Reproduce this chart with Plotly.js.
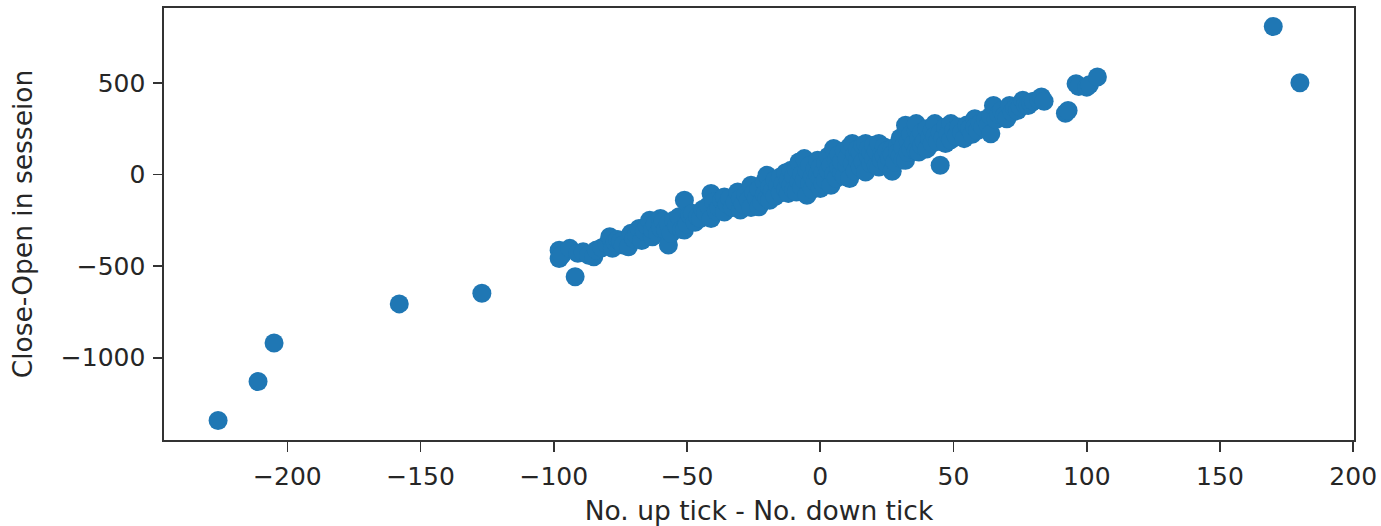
<!DOCTYPE html>
<html>
<head>
<meta charset="utf-8">
<script src="https://cdn.plot.ly/plotly-3.0.1.min.js"></script>
<style>html,body{margin:0;padding:0;background:#fff;}#chart{width:1381px;height:526px;}</style>
</head>
<body>
<div id="chart"></div>
<script>
// No. up tick - No. down tick
const upDownTickDiff = [
  -226, -211, -205, -158, -127, 170, 180,
  -98, -98, -97, -94, -92, -91, -89, -87, -85, -84, -82, -80, -79, -78, -77, -76, -75, -74, -72, -71, -70, -69, -68, -67, -66, -65, -64, -63, -63, -62, -61, -60, -60, -59, -58, -57, -57, -56, -55, -54, -53, -52, -51, -51, -50, -50,
  -49, -48, -47, -46, -45, -44, -43, -42, -41, -41, -40, -39, -38, -37, -36, -36, -35, -34, -33, -32, -31, -30, -30, -29, -28, -27, -26, -26, -25, -24, -23, -23, -22, -21, -21, -20, -20, -19, -19, -18, -17, -17, -16, -15, -15, -14, -13, -13, -12, -12, -11, -11, -10, -10, -9, -9, -8, -8, -7, -7, -6, -6, -5, -5, -4, -4, -3, -3, -2, -2, -1, -1, 0, 0, 0,
  1, 1, 2, 2, 3, 3, 4, 4, 5, 5, 6, 6, 7, 7, 8, 8, 9, 9, 10, 10, 11, 11, 12, 12, 13, 13, 14, 14, 15, 15, 16, 16, 17, 17, 18, 18, 19, 19, 20, 20, 21, 21, 22, 22, 23, 23, 24, 24, 25, 25, 26, 27, 27, 27, 28, 29, 29, 30, 30,
  31, 31, 32, 32, 33, 33, 34, 34, 35, 36, 36, 36, 37, 37, 38, 38, 39, 40, 40, 41, 42, 42, 43, 43, 44, 45, 45, 46, 47, 47, 48, 49, 49, 50, 51, 52, 53, 54, 55, 56, 57, 58, 58, 59, 60, 61, 62, 63, 64, 64,
  65, 66, 67, 68, 69, 70, 71, 72, 73, 74, 75, 76, 77, 78, 79, 80, 82, 83, 84, 92, 93, 96, 97, 100, 101, 104
];
// Close-Open in session
const closeOpen = [
  -1343, -1130, -920, -706, -648, 808, 501,
  -413, -458, -440, -403, -558, -430, -422, -440, -449, -412, -400, -380, -340, -403, -370, -355, -367, -385, -394, -321, -350, -330, -294, -360, -310, -280, -249, -340, -300, -270, -320, -240, -290, -255, -300, -385, -267, -320, -250, -280, -230, -300, -140, -303, -249, -270,
  -220, -212, -260, -230, -240, -190, -210, -170, -103, -240, -150, -200, -180, -140, -122, -204, -160, -130, -180, -150, -95, -194, -130, -160, -110, -140, -58, -180, -100, -130, -176, -80, -150, -40, -110, -4, -130, -140, -70, -90, -30, -120, -60, -13, -100, -50, -80, 10, -103, -30, 23, -60, -10, -85, -95, 30, -40, 69, 0, -70, 87, -30, -113, 20, -50, 50, -10, -80, 30, -40, 78, 0, -76, -20, 40,
  10, -50, 60, -30, 20, 100, -58, 50, 142, 0, 80, -20, 40, 110, 10, 70, -10, 130, 50, 90, -22, 150, 169, 60, 20, 110, 80, 140, 40, 120, 160, 70, 14, 169, 100, 140, 60, 120, 90, 160, 50, 130, 41, 169, 110, 80, 150, 100, 60, 130, 90, 18, 142, 110, 70, 160, 120, 100, 200,
  150, 80, 78, 269, 180, 120, 220, 140, 170, 241, 278, 130, 123, 200, 160, 230, 180, 140, 250, 200, 170, 240, 278, 210, 180, 51, 230, 200, 169, 260, 220, 190, 278, 240, 210, 260, 230, 196, 270, 250, 220, 305, 260, 240, 280, 260, 300, 270, 223, 320,
  377, 300, 330, 350, 320, 305, 377, 340, 360, 350, 370, 405, 380, 377, 390, 400, 410, 423, 400, 335, 350, 496, 480, 477, 490, 532
];
const xTicks = [-200, -150, -100, -50, 0, 50, 100, 150, 200];
const yTicks = [-1000, -500, 0, 500];
const xTickText = ['\u2212200', '\u2212150', '\u2212100', '\u221250', '0', '50', '100', '150', '200'];
const yTickText = ['\u22121000', '\u2212500', '0', '500'];

const trace = {
  type: 'scatter',
  mode: 'markers',
  x: upDownTickDiff,
  y: closeOpen,
  marker: {size: 19, color: '#1f77b4', line: {width: 0}},
  hoverinfo: 'x+y'
};

const tickFont = {family: 'DejaVu Sans, sans-serif', size: 25, color: '#262626'};
const titleFont = {family: 'DejaVu Sans, sans-serif', size: 26.5, color: '#262626'};
const axisCommon = {
  showgrid: false,
  zeroline: false,
  showline: true,
  linecolor: '#333',
  linewidth: 1.6,
  mirror: true,
  ticks: 'outside',
  tickwidth: 1.6,
  tickcolor: '#333',
  tickfont: tickFont
};

const layout = {
  width: 1381,
  height: 526,
  margin: {l: 164, r: 27, t: 8, b: 86, pad: 0},
  paper_bgcolor: '#ffffff',
  plot_bgcolor: '#ffffff',
  showlegend: false,
  font: tickFont,
  xaxis: Object.assign({}, axisCommon, {
    range: [-246.3, 200.3],
    tickmode: 'array',
    tickvals: xTicks,
    ticktext: xTickText,
    ticklen: 10,
    ticklabelstandoff: 3,
    title: {text: 'No. up tick - No. down tick', font: titleFont, standoff: 14}
  }),
  yaxis: Object.assign({}, axisCommon, {
    range: [-1449, 909],
    tickmode: 'array',
    tickvals: yTicks,
    ticktext: yTickText,
    ticklen: 9,
    ticklabelstandoff: 3,
    title: {text: 'Close-Open in sesseion', font: titleFont, standoff: 20}
  })
};

Plotly.newPlot('chart', [trace], layout, {displayModeBar: false, staticPlot: true});
</script>
</body>
</html>
